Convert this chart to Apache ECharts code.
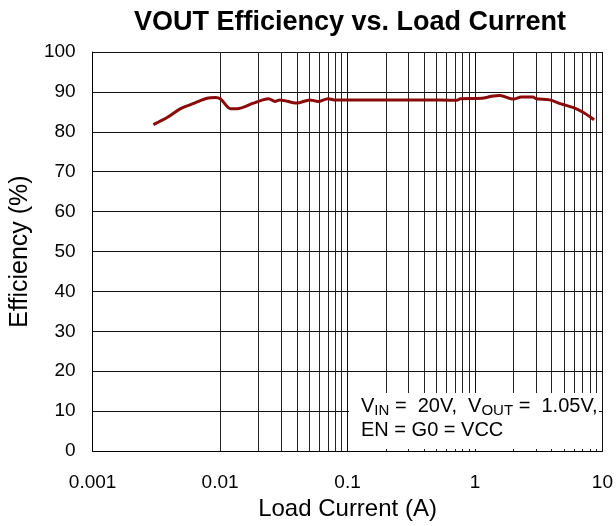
<!DOCTYPE html>
<html>
<head>
<meta charset="utf-8">
<script src="https://cdn.jsdelivr.net/npm/echarts@6/dist/echarts.min.js"></script>
<style>
  html, body { margin: 0; padding: 0; background: #fff; }
  #chart { width: 616px; height: 526px; }
</style>
</head>
<body>
<div id="chart"></div>
<script>
// load current (A) and efficiency (%)
var loadCurrent = [0.003, 0.0039, 0.0049, 0.0063, 0.0079, 0.0092, 0.0101, 0.0121, 0.0136, 0.0183,
    0.024, 0.027, 0.0295, 0.04, 0.0506, 0.0587, 0.0703, 0.079, 0.1, 0.2,
    0.4, 0.72, 0.77, 1.13, 1.35, 1.57, 2.0, 2.31, 2.85, 3.02,
    3.85, 4.73, 6.0, 7.2, 8.6];
var efficiency = [81.8, 83.7, 85.8, 87.2, 88.4, 88.6, 88.2, 85.8, 85.8, 87.2,
    88.3, 87.6, 88.0, 87.2, 88.0, 87.6, 88.3, 88.0, 88.0, 88.0,
    88.0, 87.9, 88.3, 88.4, 88.9, 89.1, 88.2, 88.7, 88.7, 88.3,
    88.0, 87.0, 86.0, 84.7, 83.0];
// minor log grid lines (2..9 in each decade)
var minorGrid = [0.002, 0.003, 0.004, 0.005, 0.006, 0.007, 0.008, 0.009,
    0.02, 0.03, 0.04, 0.05, 0.06, 0.07, 0.08, 0.09,
    0.2, 0.3, 0.4, 0.5, 0.6, 0.7, 0.8, 0.9,
    2, 3, 4, 5, 6, 7, 8, 9];

var FONT = 'Liberation Sans, Arial, sans-serif';
var chart = echarts.init(document.getElementById('chart'));

var pairs = [];
for (var i = 0; i < loadCurrent.length; i++) {
    pairs.push([loadCurrent[i], efficiency[i]]);
}

var option = {
    backgroundColor: '#fff',
    animation: false,
    title: {
        text: 'VOUT Efficiency vs. Load Current',
        left: 345,
        top: 4,
        textAlign: 'center',
        textStyle: { fontFamily: FONT, fontSize: 27, fontWeight: 'bold', color: '#000' }
    },
    grid: { left: 91, right: 11, top: 52, bottom: 73 },
    xAxis: {
        type: 'log',
        logBase: 10,
        min: 0.001,
        max: 10,
        name: 'Load Current (A)',
        nameLocation: 'middle',
        nameGap: 46,
        nameTextStyle: { fontFamily: FONT, fontSize: 24, color: '#000' },
        axisLine: { show: true, lineStyle: { color: '#000', width: 1 } },
        axisTick: { show: false },
        axisLabel: {
            fontFamily: FONT, fontSize: 19, color: '#000', margin: 22,
            formatter: function (v) { return String(+v.toPrecision(3)); }
        },
        splitLine: { show: true, lineStyle: { color: '#111', width: 1 } }
    },
    yAxis: {
        type: 'value',
        min: 0,
        max: 100,
        interval: 10,
        name: 'Efficiency (%)',
        nameLocation: 'middle',
        nameGap: 55,
        nameTextStyle: { fontFamily: FONT, fontSize: 25, color: '#000' },
        axisLine: { show: true, lineStyle: { color: '#000', width: 1 } },
        axisTick: { show: false },
        axisLabel: { fontFamily: FONT, fontSize: 19, color: '#000', margin: 17 },
        splitLine: { show: true, lineStyle: { color: '#111', width: 1 } }
    },
    series: [
        {
            type: 'line',
            data: [],
            silent: true,
            z: 1,
            markLine: {
                silent: true,
                symbol: 'none',
                animation: false,
                label: { show: false },
                lineStyle: { color: '#222', width: 1, type: 'solid' },
                data: minorGrid.map(function (v) { return { xAxis: v }; })
            }
        },
        {
            type: 'line',
            data: pairs,
            smooth: 0.3,
            showSymbol: false,
            z: 5,
            lineStyle: { color: '#8b0a0a', width: 3 }
        }
    ],
    graphic: [
        {
            type: 'rect',
            z: 100,
            shape: { x: 349, y: 393, width: 250, height: 56 },
            style: { fill: '#fff' }
        },
        {
            type: 'text',
            z: 101,
            left: 361,
            top: 396,
            style: {
                text: '{m|V}{s|IN}{m| =  20V,  V}{s|OUT}{m| =  1.05V,}\n{m|EN = G0 = VCC}',
                rich: {
                    m: { fontFamily: FONT, fontSize: 20, color: '#000', lineHeight: 24 },
                    s: { fontFamily: FONT, fontSize: 15, color: '#000', lineHeight: 22, verticalAlign: 'bottom' }
                }
            }
        }
    ]
};

chart.setOption(option);
</script>
</body>
</html>
